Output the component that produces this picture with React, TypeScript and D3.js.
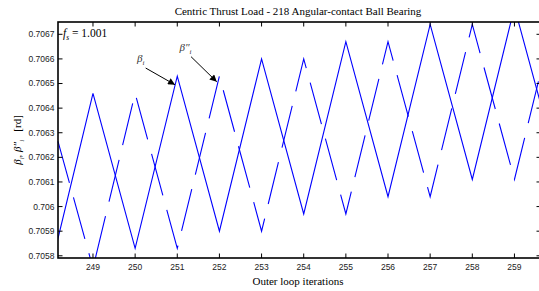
import * as d3 from "d3";

// outer loop iterations and the two contact angle series
const iterations = [248, 249, 250, 251, 252, 253, 254, 255, 256, 257, 258, 259, 260];
const betaI = [0.70575, 0.70646, 0.70583, 0.70653, 0.7059, 0.7066, 0.70597, 0.70667, 0.70604, 0.70674, 0.70611, 0.70681, 0.70618];
const betaPP = [0.70637, 0.70575, 0.70646, 0.70583, 0.70653, 0.7059, 0.7066, 0.70597, 0.70667, 0.70604, 0.70674, 0.70611, 0.70681];

const xTicks = [249, 250, 251, 252, 253, 254, 255, 256, 257, 258, 259];
const yTicks = [0.7058, 0.7059, 0.706, 0.7061, 0.7062, 0.7063, 0.7064, 0.7065, 0.7066, 0.7067];

const xDomain = [248.17, 259.63];
const yDomain = [0.705791, 0.70675];

const serif = "'Liberation Serif', 'Times New Roman', serif";
const sans = "'Liberation Sans', Arial, sans-serif";

// matlab clips the line to the axes first, so the dash pattern restarts at every re-entry
function clipPieces(xs: number[], ys: number[]) {
  const [x0, x1] = xDomain;
  const [y0, y1] = yDomain;
  const pieces: [number, number][][] = [];
  let cur: [number, number][] | null = null;
  for (let k = 0; k < xs.length - 1; k++) {
    const ax = xs[k], ay = ys[k];
    const dx = xs[k + 1] - ax, dy = ys[k + 1] - ay;
    const p = [-dx, dx, -dy, dy];
    const q = [ax - x0, x1 - ax, ay - y0, y1 - ay];
    let t0 = 0, t1 = 1, ok = true;
    for (let i = 0; i < 4; i++) {
      if (p[i] === 0) {
        if (q[i] < 0) ok = false;
      } else {
        const r = q[i] / p[i];
        if (p[i] < 0) {
          if (r > t1) ok = false;
          else if (r > t0) t0 = r;
        } else {
          if (r < t0) ok = false;
          else if (r < t1) t1 = r;
        }
      }
    }
    if (!ok) { cur = null; continue; }
    const s: [number, number] = [ax + t0 * dx, ay + t0 * dy];
    const e: [number, number] = [ax + t1 * dx, ay + t1 * dy];
    if (cur && t0 === 0) cur.push(e);
    else { cur = [s, e]; pieces.push(cur); }
    if (t1 < 1) cur = null;
  }
  return pieces;
}

const App = () => {
  const width = 539;
  const height = 291;
  const margin = { top: 22, bottom: 33, left: 58, right: -2 };

  const x = d3.scaleLinear().domain(xDomain).range([margin.left, width - margin.right]);
  const y = d3.scaleLinear().domain(yDomain).range([height - margin.bottom, margin.top]);

  const line = d3.line<[number, number]>().x(d => x(d[0])).y(d => y(d[1]));

  const solid = line(iterations.map((it, i) => [it, betaI[i]] as [number, number]));
  const dashed = clipPieces(iterations, betaPP);

  const left = x.range()[0], right = x.range()[1];
  const top = y.range()[1], bottom = y.range()[0];
  const tick = 4.5;

  const arrowI = { from: [250.25, 0.706563], to: [250.947, 0.706495] };
  const arrowPP = { from: [251.327, 0.706609], to: [251.937, 0.706507] };

  return (
    <svg width={width} height={height} style={{ position: "absolute", left: 0, top: 0, background: "#fff" }}>
      <defs>
        <clipPath id="plotArea">
          <rect x={left} y={top} width={right - left} height={bottom - top} />
        </clipPath>
        <marker id="head" viewBox="0 0 10 10" refX="10" refY="5" markerWidth="9" markerHeight="7" markerUnits="userSpaceOnUse" orient="auto">
          <path d="M0,0 L10,5 L0,10 z" fill="#000" />
        </marker>
      </defs>

      <text x={298} y={15} textAnchor="middle" fontFamily={serif} fontSize={11}>
        Centric Thrust Load - 218 Angular-contact Ball Bearing
      </text>

      <g clipPath="url(#plotArea)">
        <path d={solid ?? ""} fill="none" stroke="#0000ff" strokeWidth={1.1} />
      </g>
      {dashed.map((pc, i) => (
        <path key={i} d={line(pc) ?? ""} fill="none" stroke="#0000ff" strokeWidth={1.1} strokeDasharray="43 15" />
      ))}

      {/* axes box */}
      <rect x={left} y={top} width={right - left} height={bottom - top} fill="none" stroke="#000" strokeWidth={1.6} />

      {xTicks.map(t => (
        <g key={t}>
          <line x1={x(t)} x2={x(t)} y1={bottom} y2={bottom - tick} stroke="#000" strokeWidth={1} />
          <line x1={x(t)} x2={x(t)} y1={top} y2={top + tick} stroke="#000" strokeWidth={1} />
          <text x={x(t)} y={bottom + 11.5} textAnchor="middle" fontFamily={sans} fontSize={8.5} fill="#222">{t}</text>
        </g>
      ))}
      {yTicks.map(t => (
        <g key={t}>
          <line x1={left} x2={left + tick} y1={y(t)} y2={y(t)} stroke="#000" strokeWidth={1} />
          <line x1={right} x2={right - tick} y1={y(t)} y2={y(t)} stroke="#000" strokeWidth={1} />
          <text x={left - 3.5} y={y(t)} dy="0.35em" textAnchor="end" fontFamily={sans} fontSize={8.5} fill="#222">
            {String(+t.toFixed(4))}
          </text>
        </g>
      ))}

      <text x={298} y={285} textAnchor="middle" fontFamily={serif} fontSize={11}>Outer loop iterations</text>

      <text transform={`translate(21,${(top + bottom) / 2}) rotate(-90)`} textAnchor="middle" fontFamily={serif} fontSize={11}>
        <tspan fontStyle="italic">β</tspan>
        <tspan fontStyle="italic" fontSize={7} dy={2.5}>i</tspan>
        <tspan dy={-2.5}>, </tspan>
        <tspan fontStyle="italic">β″</tspan>
        <tspan fontStyle="italic" fontSize={7} dy={2.5}>i</tspan>
        <tspan dy={-2.5}>{"\u00a0\u00a0\u00a0[rd]"}</tspan>
      </text>

      <text x={63} y={37} fontFamily={serif} fontSize={11.5}>
        <tspan fontStyle="italic">f</tspan>
        <tspan fontStyle="italic" fontSize={7.5} dy={2.5}>s</tspan>
        <tspan dy={-2.5}> = 1.001</tspan>
      </text>

      <text x={x(250.045)} y={y(0.706587)} fontFamily={serif} fontSize={11} fill="#333">
        <tspan fontStyle="italic">β</tspan>
        <tspan fontStyle="italic" fontSize={7} dy={2.5}>i</tspan>
      </text>
      <line x1={x(arrowI.from[0])} y1={y(arrowI.from[1])} x2={x(arrowI.to[0])} y2={y(arrowI.to[1])} stroke="#000" strokeWidth={1} markerEnd="url(#head)" />

      <text x={x(251.054)} y={y(0.706632)} fontFamily={serif} fontSize={11} fill="#333">
        <tspan fontStyle="italic">β″</tspan>
        <tspan fontStyle="italic" fontSize={7} dy={2.5}>i</tspan>
      </text>
      <line x1={x(arrowPP.from[0])} y1={y(arrowPP.from[1])} x2={x(arrowPP.to[0])} y2={y(arrowPP.to[1])} stroke="#000" strokeWidth={1} markerEnd="url(#head)" />
    </svg>
  );
};

export default App;
